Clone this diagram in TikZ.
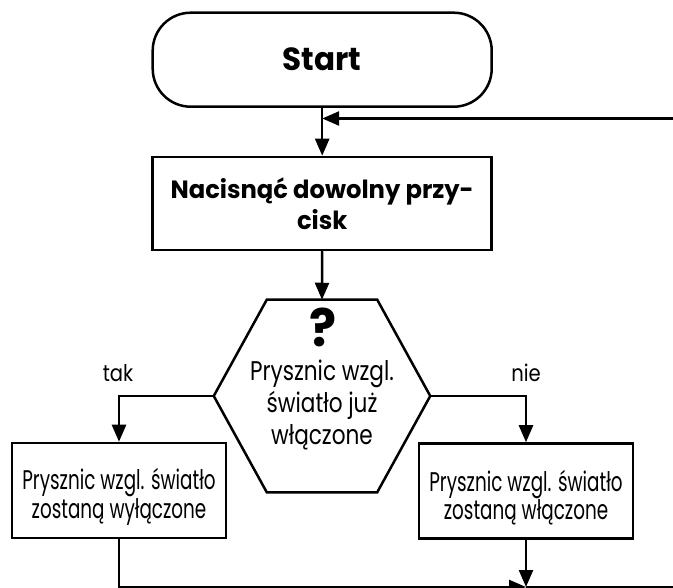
\documentclass[tikz,border=0pt]{standalone}
\usepackage{fontspec}
\setmainfont{Poppins}
\newfontfamily\boxfont[FakeStretch=0.68]{Poppins}
\newfontfamily\hexfont[FakeStretch=0.8]{Poppins}
\newfontfamily\labfont[FakeStretch=0.85]{Poppins}
\newfontfamily\headfont[FakeStretch=0.97]{Poppins}
\newcommand\lowerby[1]{\rule{0pt}{#1}}
\usetikzlibrary{arrows.meta}
\begin{document}
\begin{tikzpicture}[x=1pt,y=-1pt,line width=2.5pt,
  conn/.style={-{Triangle[length=17pt,width=14pt]}},
  term/.style={draw,rounded corners=38pt,minimum width=339pt,minimum height=94pt,inner sep=0pt,font=\headfont\bfseries\fontsize{32}{32}\selectfont},
  procbox/.style={draw,minimum width=339pt,minimum height=93pt,inner sep=0pt,align=center,font=\headfont\bfseries\fontsize{25}{31}\selectfont},
  actbox/.style={draw,minimum width=214pt,minimum height=95pt,inner sep=0pt,align=center,font=\boxfont\fontsize{27}{26}\selectfont},
  lab/.style={font=\labfont\fontsize{23}{23}\selectfont,anchor=base,inner sep=0pt}]
\useasboundingbox (0,0) rectangle (673,588);
\node[term] (start) at (322.2,59.7) {Start};
\node[procbox] (press) at (322.2,203.5) {Nacisnąć dowolny przy-\\cisk};
\node[minimum width=214pt,minimum height=190pt,inner sep=0pt] (dec) at (322,396) {};
\draw ([xshift=53pt]dec.north west) -- ([xshift=-53pt]dec.north east) -- (dec.east) -- ([xshift=-53pt]dec.south east) -- ([xshift=53pt]dec.south west) -- (dec.west) -- cycle;
\node[font=\headfont\bfseries\fontsize{52}{52}\selectfont,inner sep=0pt] (qmark) at (323,327) {?};
\node[align=center,font=\hexfont\fontsize{27}{32}\selectfont,inner sep=0pt] (qtext) at (322,405) {Prysznic wzgl.\\światło już\\włączone};
\node[actbox] (off) at (119,490.5) {\lowerby{34pt}Prysznic wzgl. światło\\zostaną wyłączone};
\node[actbox] (on) at (526,491) {\lowerby{34pt}Prysznic wzgl. światło\\zostaną włączone};
\node[lab] (tak) at (118,382) {tak};
\node[lab] (nie) at (526,382) {nie};
\coordinate (loopin) at (673,118.5);
\coordinate (merge) at (526,587);
\coordinate (exitR) at (673,587);
\draw[conn] (start) -- (press);
\draw[conn] (loopin) -- (loopin -| start);
\draw[conn] (press) -- (dec.north);
\draw[conn] (dec.west) -| (off.north);
\draw[conn] (dec.east) -| (on.north);
\draw[conn] (on.south) -- (merge);
\draw[conn] (off.south) |- (merge);
\draw (merge) -- (exitR);
\end{tikzpicture}
\end{document}
